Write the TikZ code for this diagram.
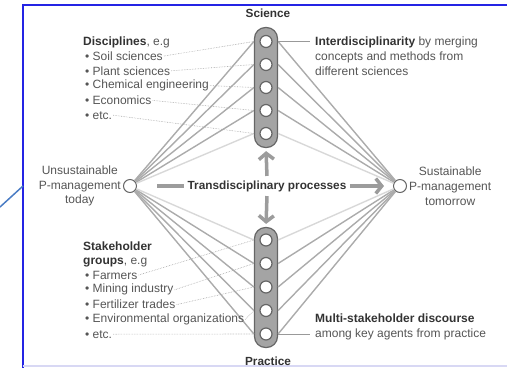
\documentclass[tikz,border=0pt]{standalone}
\usepackage{fontspec}
\setmainfont{Liberation Sans}
\usepackage{xcolor}
\usetikzlibrary{positioning,arrows.meta}
\definecolor{ink}{HTML}{555555}
\definecolor{inkdark}{HTML}{333333}
\definecolor{edgeblue}{HTML}{2424E4}
\definecolor{callblue}{HTML}{4A7CC4}
\definecolor{lavender}{HTML}{D8D8F4}
\definecolor{rimgray}{HTML}{666666}
\definecolor{fillgray}{HTML}{A4A4A4}
\definecolor{wiregray}{HTML}{ABABAB}
\definecolor{palegray}{HTML}{D8D8D8}
\definecolor{bargray}{HTML}{9C9C9C}
\newcommand\keyw[1]{\textcolor{inkdark}{\textbf{#1}}}

\tikzset{
  pillar/.style={draw=rimgray, fill=fillgray, line width=1.2pt, rounded corners=11pt,
    minimum width=23pt, minimum height=120pt, inner sep=0pt},
  slot/.style={circle, draw=rimgray, fill=white, line width=1.2pt, minimum size=12pt, inner sep=0pt},
  pole/.style={circle, draw=rimgray, fill=white, line width=1pt, minimum size=13pt, inner sep=0pt},
  wire/.style={draw=wiregray, line width=1.4pt},
  pale/.style={draw=palegray, line width=1.4pt},
  hint/.style={draw=gray!70, densely dotted, line width=0.6pt},
  tag/.style={draw=gray!80, line width=0.8pt, shorten >=4pt},
  bar/.style={draw=bargray, line width=3.5pt},
  flow/.style={bar, -{Straight Barb[length=6pt,width=15pt]}},
  item/.style={anchor=west, inner sep=1pt, align=left},
  head/.style={text=inkdark, font=\fontsize{11.8}{14.8}\selectfont\bfseries},
}

\begin{document}
\begin{tikzpicture}[x=1pt, y=-1pt, text=ink, font=\fontsize{12}{14.8}\selectfont]
  \useasboundingbox (0,0) rectangle (507,368);

  \coordinate (nw) at (23,5);
  \coordinate (ne) at (507,5);
  \coordinate (sw) at (23,368);
  \coordinate (bl) at (23,366);
  \coordinate (br) at (507,366);
  \coordinate (cA) at (0,207);
  \coordinate (cB) at (23,186);
  \draw[edgeblue, line width=2pt] (ne) -- (nw) -- (sw);
  \draw[lavender, line width=1.5pt] (bl) -- (br);
  \draw[callblue, line width=1.5pt] (cA) -- (cB);

  \node[pillar] (sci) at (266,87.5) {};
  \node[pillar] (prc) at (266,287.5) {};
  \foreach \i in {1,...,5} {
    \node[slot] (s\i) at (266,{41.5+23*(\i-1)}) {};
    \node[slot] (p\i) at (266,{240+23.5*(\i-1)}) {};
  }

  \node[pole] (now) at (130,186) {};
  \node[pole] (goal) at (400,186) {};
  \node[anchor=east, align=center, inner sep=1pt] (nowtxt) at ([xshift=-1pt]now.west) {Unsustainable\\P-management\\today};
  \node[anchor=west, align=center, inner sep=1pt] (goaltxt) at ([xshift=1pt]goal.east) {Sustainable\\P-management\\tomorrow};

  \foreach \i in {1,...,4} {
    \draw[wire] (now) -- (sci.west |- s\i);
    \draw[wire] (goal) -- (sci.east |- s\i);
  }
  \foreach \i in {2,...,5} {
    \draw[wire] (now) -- (prc.west |- p\i);
    \draw[wire] (goal) -- (prc.east |- p\i);
  }
  \draw[pale] (now) -- (sci.west |- s5);
  \draw[pale] (goal) -- (sci.east |- s5);
  \draw[pale] (now) -- (prc.west |- p1);
  \draw[pale] (goal) -- (prc.east |- p1);

  \node[head] (trans) at (267,186) {Transdisciplinary processes};
  \coordinate (barL) at (157,186);
  \coordinate (flowR) at (384,186);
  \draw[bar] (barL) -- (trans.west);
  \draw[flow] (trans.east) -- (flowR);
  \draw[flow, shorten >=3pt, shorten <=1pt] (trans.north) -- (sci.south);
  \draw[flow, shorten >=3pt, shorten <=1pt] (trans.south) -- (prc.north);

  \node[head] (scitxt) at (268,13) {Science};
  \node[head] (prctxt) at (268,361) {Practice};

  \node[item] (dhead) at (82,42) {\keyw{Disciplines}, e.g};
  \foreach \t [count=\i] in {Soil sciences, Plant sciences, Chemical engineering, Economics, etc.} {
    \node[item] (d\i) at (84,{56+14.8*(\i-1)}) {\textbullet\ \t};
    \draw[hint] (d\i.east) -- (sci.west |- s\i);
  }

  \node[item] (shead) at (82,254.5) {\keyw{Stakeholder}\\\keyw{groups}, e.g};
  \foreach \t [count=\i] in {Farmers, Mining industry, Fertilizer trades, Environmental organizations, etc.} {
    \node[item] (g\i) at (84,{275+14.8*(\i-1)}) {\textbullet\ \t};
    \draw[hint] (g\i.east) -- (prc.west |- p\i);
  }

  \node[item] (inter) at (314,56.5) {\keyw{Interdisciplinarity} by merging\\concepts and methods from\\different sciences};
  \draw[tag] (sci.east |- s1) -- (inter.west |- s1);
  \node[item] (multi) at (314,327) {\keyw{Multi-stakeholder discourse}\\among key agents from practice};
  \draw[tag] (prc.east |- p5) -- (multi.west |- p5);
\end{tikzpicture}
\end{document}
